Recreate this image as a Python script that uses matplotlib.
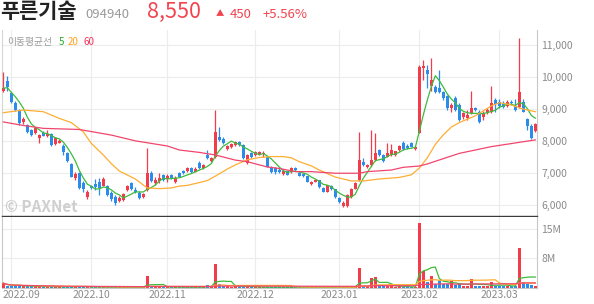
import numpy as np
import pandas as pd
import matplotlib
matplotlib.use('Agg')
import matplotlib.pyplot as plt
from matplotlib.ticker import FuncFormatter

plt.rcParams['font.family'] = ['Noto Sans CJK KR', 'DejaVu Sans']

# daily candles, 2022-08-30 .. 2023-03-15 (one entry per trading day)
opens = [9570, 9880, 9495, 9200, 8970, 8600, 8500, 8350, 8250, 8110,
         8245, 8160, 8225, 7900, 7955, 7860, 7620, 7290, 6840, 7000,
         6705, 6250, 6610, 6655, 6740, 6610, 6600, 6390, 6270, 6135,
         6165, 6475, 6690, 6480, 6395, 6250, 6470, 7015, 6705, 6770,
         6945, 6810, 6945, 6735, 7000, 7070, 7070, 7175, 7050, 7330,
         7155, 7570, 7390, 7515, 8140, 8060, 7760, 7820, 7880, 7980,
         7880, 7330, 7620, 7570, 7580, 7590, 7515, 7205, 7155, 7110,
         6980, 7060, 7050, 7170, 7010, 6990, 6900, 6660, 6740, 6780,
         6540, 6420, 6600, 6500, 6230, 5990, 5980, 6260, 6520, 6790,
         7360, 7180, 7260, 7410, 7730, 7570, 7520, 7570, 7570, 7710,
         7950, 7850, 7935, 7750, 8260, 10270, 10230, 9720, 9690, 9650,
         9545, 9410, 9030, 9340, 9130, 8745, 8715, 8870, 9025, 8920,
         8745, 8870, 8920, 9285, 9230, 9180, 9100, 9230, 9100, 9080,
         9230, 8685, 8460, 8330]
highs = [10170, 10020, 9540, 9240, 9000, 8750, 8540, 8380, 8440, 8225,
         8320, 8350, 8240, 8115, 8070, 7900, 7660, 7320, 7040, 7040,
         6760, 6470, 6640, 6820, 6840, 6870, 6630, 6450, 6320, 6280,
         6380, 6640, 6730, 6560, 6440, 6380, 7780, 7055, 6880, 7000,
         6980, 6980, 6980, 6900, 7040, 7100, 7200, 7210, 7190, 7380,
         7300, 7725, 7500, 8975, 8440, 8120, 7880, 7930, 8010, 8020,
         7900, 7600, 7660, 7700, 7700, 7700, 7540, 7230, 7180, 7150,
         7120, 7080, 7200, 7190, 7030, 7010, 6920, 6760, 6830, 6800,
         6560, 6640, 6620, 6520, 6260, 6130, 6360, 6540, 6740, 8295,
         7465, 7290, 8350, 8245, 7760, 7600, 7950, 7910, 7700, 7880,
         7990, 7900, 7960, 7850, 10370, 10545, 10390, 10600, 9760, 10235,
         9580, 9440, 9180, 9400, 9180, 8920, 8970, 9565, 9060, 8960,
         8950, 9030, 9720, 9340, 9330, 9250, 9280, 9300, 9330, 11210,
         9330, 8720, 8540, 8560]
lows = [9530, 9560, 9200, 8940, 8500, 8550, 8260, 8160, 8225, 7950,
        8160, 8130, 7850, 7880, 7930, 7570, 7350, 6880, 6790, 6500,
        6430, 6200, 6520, 6480, 6320, 6590, 6290, 6130, 6010, 6110,
        6140, 6440, 6470, 6380, 6200, 6230, 6440, 6735, 6630, 6690,
        6760, 6740, 6820, 6680, 6870, 6980, 7040, 7020, 7030, 7130,
        7140, 7440, 7350, 7465, 8000, 7900, 7720, 7800, 7860, 7860,
        7440, 7300, 7480, 7540, 7560, 7500, 7180, 7020, 6990, 7010,
        6950, 6930, 7020, 7080, 6900, 6880, 6720, 6640, 6720, 6540,
        6400, 6400, 6480, 6230, 6060, 5960, 5950, 6240, 6500, 6760,
        7230, 7160, 7240, 7390, 7540, 7360, 7500, 7550, 7550, 7690,
        7740, 7760, 7810, 7730, 8240, 9910, 9650, 9560, 9500, 9510,
        9300, 8970, 8920, 8950, 8620, 8700, 8660, 8840, 8950, 8560,
        8660, 8840, 8880, 8920, 9050, 9050, 9060, 9130, 8950, 9050,
        8900, 8350, 8060, 8300]
closes = [9650, 9690, 9230, 8975, 8560, 8680, 8300, 8190, 8420, 8190,
          8170, 8215, 7880, 8090, 8005, 7670, 7380, 6890, 6965, 6530,
          6500, 6425, 6530, 6560, 6530, 6810, 6320, 6190, 6060, 6240,
          6345, 6600, 6500, 6405, 6220, 6355, 7020, 6770, 6790, 6845,
          6790, 6915, 6845, 6850, 6890, 7000, 7155, 7050, 7135, 7155,
          7255, 7465, 7485, 8295, 8040, 7930, 7850, 7900, 7980, 7880,
          7470, 7570, 7520, 7670, 7670, 7640, 7205, 7050, 7030, 7040,
          7060, 6950, 7170, 7100, 6920, 6900, 6740, 6740, 6800, 6560,
          6420, 6620, 6500, 6250, 6110, 6080, 6330, 6520, 6700, 7415,
          7255, 7260, 7410, 7620, 7570, 7390, 7620, 7730, 7680, 7850,
          7760, 7780, 7830, 7830, 10320, 10340, 10100, 9910, 9545, 9540,
          9340, 9025, 9130, 8975, 8660, 8870, 8815, 9025, 8975, 8610,
          8870, 8975, 9200, 9160, 9100, 9080, 9230, 9180, 8975, 9545,
          8920, 8470, 8100, 8550]
# volume in millions of shares
volumes_m = [1.2, 0.6, 0.5, 0.5, 0.7, 0.4, 0.5, 0.4, 0.4, 0.3,
             0.3, 0.3, 0.4, 0.3, 0.2, 0.3, 0.3, 0.5, 0.3, 0.4,
             0.3, 0.3, 0.2, 0.2, 0.2, 0.3, 0.2, 0.2, 0.3, 0.2,
             0.2, 0.2, 0.2, 0.2, 0.2, 0.2, 2.9, 0.6, 0.3, 0.3,
             0.3, 0.2, 0.2, 0.2, 0.3, 0.2, 0.2, 0.2, 0.2, 0.3,
             0.2, 0.8, 0.3, 6.0, 1.0, 0.6, 0.4, 0.3, 0.5, 0.4,
             0.5, 0.3, 0.2, 0.2, 0.2, 0.2, 0.3, 0.2, 0.2, 0.2,
             0.2, 0.2, 0.2, 0.2, 0.2, 0.2, 0.3, 0.2, 0.2, 0.3,
             0.2, 0.2, 0.2, 0.3, 0.3, 0.2, 0.3, 0.3, 0.3, 5.0,
             0.6, 0.4, 2.5, 2.8, 0.7, 0.6, 0.5, 0.7, 0.3, 0.4,
             0.3, 0.2, 0.2, 0.3, 16.5, 4.4, 1.6, 2.9, 1.0, 2.1,
             0.9, 1.0, 1.7, 0.8, 1.0, 0.5, 0.6, 2.3, 0.5, 0.6,
             0.4, 0.5, 1.4, 0.6, 0.6, 0.5, 0.5, 0.4, 0.6, 10.0,
             1.5, 1.1, 0.7, 0.5]

# 20 and 60 day averages (they need history before the window)
ma20_idx = [0, 5, 10, 14, 17, 20, 22, 25, 27, 29, 33, 36, 39, 42, 44, 46, 49, 51,
            53, 56, 58, 61, 64, 67, 70, 72, 74, 77, 79, 83, 87, 90, 94, 99, 102,
            104, 106, 108, 110, 112, 114, 118, 122, 124, 127, 130, 133]
ma20_val = [8890, 8970, 8920, 8710, 8580, 8290, 7930, 7570, 7300, 7070, 6820, 6540,
            6520, 6540, 6600, 6620, 6710, 6770, 6910, 7130, 7260, 7420, 7490, 7520,
            7520, 7480, 7360, 7230, 7100, 6880, 6760, 6760, 6820, 6870, 6950, 7160,
            7480, 7900, 8200, 8440, 8580, 8790, 9100, 9200, 9130, 9000, 8920]
ma60_idx = [0, 5, 10, 19, 27, 33, 41, 44, 49, 53, 58, 61, 66, 69, 73, 77, 83, 89,
            91, 97, 100, 104, 106, 114, 122, 133]
ma60_val = [8600, 8490, 8400, 8365, 8190, 8010, 7850, 7725, 7650, 7570, 7410, 7360,
            7195, 7150, 7050, 7050, 7000, 7000, 7050, 7100, 7185, 7225, 7290, 7620,
            7830, 8040]

date_labels = ['2022.09', '2022.10', '2022.11', '2022.12', '2023.01', '2023.02', '2023.03']
date_pos = [2, 22, 41, 63, 84, 104, 124]
price_ticks = [6000, 7000, 8000, 9000, 10000, 11000]

UP, DOWN = '#f23b4b', '#2b8ceb'
C5, C20, C60 = '#3dbb3d', '#ffad33', '#f0466c'

W, H = 594, 304
fig = plt.figure(figsize=(W / 100, H / 100), dpi=100)


def box(l, t, r, b):
    return [l / W, 1 - b / H, (r - l) / W, (b - t) / H]


def px(x, y):
    return x / W, 1 - y / H


ax = fig.add_axes(box(2, 30, 537, 216))
axv = fig.add_axes(box(2, 217, 537, 288))

idx = np.arange(len(closes))
o = np.array(opens); c = np.array(closes)
cols = [UP if cc >= oo else DOWN for oo, cc in zip(o, c)]

# price panel
ax.vlines(idx, lows, highs, colors=cols, lw=0.9, zorder=3)
ax.bar(idx, np.maximum(np.abs(c - o), 20), bottom=np.minimum(o, c), width=0.75,
       color=cols, zorder=3)
ma5 = pd.Series(closes).rolling(5, min_periods=1).mean()
ax.plot(idx, ma5, color=C5, lw=0.9, zorder=4)
ax.plot(ma20_idx, ma20_val, color=C20, lw=0.9, zorder=4)
ax.plot(ma60_idx, ma60_val, color=C60, lw=0.9, zorder=4)

ax.set_xlim(-0.33, 133.42)
ax.set_ylim(5666, 11468)
ax.set_yticks(price_ticks)
ax.yaxis.set_major_formatter(FuncFormatter(lambda v, _: f'{v:,.0f}'))
ax.yaxis.tick_right()
ax.set_xticks(date_pos)
ax.set_xticklabels([])
ax.tick_params(length=0, labelsize=7.5, labelcolor='#8a8a8a', pad=3)
ax.grid(color='#ececec', lw=0.8, zorder=0)
ax.spines['top'].set_visible(False)
ax.spines['left'].set_color('#d5d5d5')
ax.spines['right'].set_color('#c8c8c8')
ax.spines['bottom'].set_color('#3a3a3a')
ax.spines['bottom'].set_linewidth(1.0)

# volume panel
vol = np.array(volumes_m) * 1e6
axv.bar(idx, vol, width=0.75, color=cols, zorder=3)
vs = pd.Series(vol)
axv.plot(idx, vs.rolling(5, min_periods=1).mean(), color=C5, lw=0.9, zorder=4)
axv.plot(idx, vs.rolling(20, min_periods=1).mean(), color=C20, lw=0.9, zorder=4)
axv.plot(idx, vs.rolling(60, min_periods=1).mean(), color=C60, lw=0.9, zorder=4)
axv.set_xlim(-0.33, 133.42)
axv.set_ylim(0, 17.9e6)
axv.set_yticks([7.5e6, 15e6])
axv.set_yticklabels(['8M', '15M'])
axv.yaxis.tick_right()
axv.set_xticks(date_pos)
axv.set_xticklabels([])
axv.tick_params(length=0, labelsize=7.5, labelcolor='#8a8a8a', pad=3)
axv.grid(color='#ececec', lw=0.8, zorder=0)
axv.spines['top'].set_visible(False)
for s in ['left', 'right', 'bottom']:
    axv.spines[s].set_color('#c8c8c8')

for i, (p, lab) in enumerate(zip(date_pos, date_labels)):
    axv.text(p if i else -0.2, -0.1, lab, transform=axv.get_xaxis_transform(),
             ha='center' if i else 'left', va='center', fontsize=7.5, color='#8a8a8a')

# header
base = 17.5
fig.text(*px(0, base), '푸른기술', fontsize=15, fontweight='bold', color='#222222', va='baseline')
fig.text(*px(85, base), '094940', fontsize=9.5, color='#9a9a9a', va='baseline')
fig.text(*px(147, base), '8,550', fontsize=15.5, color='#f2434f', va='baseline')
fig.text(*px(216, base - 1), '▲', fontsize=6, color='#f2434f', va='baseline')
fig.text(*px(230, base), '450', fontsize=9.5, color='#f2434f', va='baseline')
fig.text(*px(263, base), '+5.56%', fontsize=9.5, color='#f2434f', va='baseline')

# moving average legend
fig.text(*px(7, 45), '이동평균선', fontsize=7, color='#9a9a9a', va='baseline')
fig.text(*px(59, 45), '5', fontsize=7, color='#22aa22', va='baseline')
fig.text(*px(68, 45), '20', fontsize=7, color='#ffa21f', va='baseline')
fig.text(*px(83, 45), '60', fontsize=7, color='#f0325a', va='baseline')

# watermark
fig.text(*px(5, 212), '© PAXNet', fontsize=11, fontweight='bold', color='#cfcfcf', va='baseline')

fig.savefig('out.png', dpi=100)
